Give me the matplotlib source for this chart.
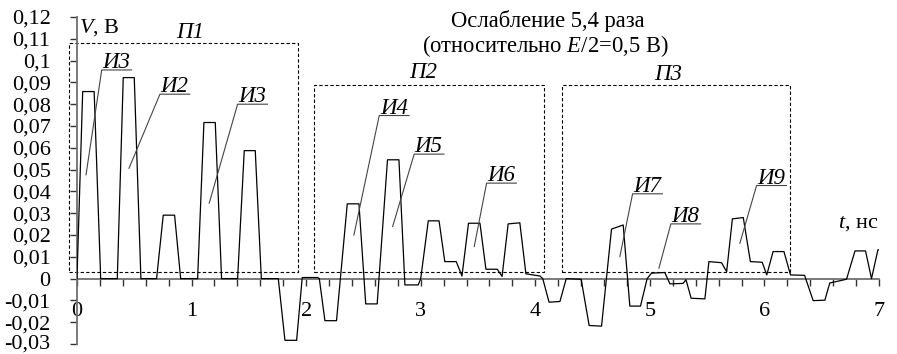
import matplotlib
matplotlib.use('Agg')
import matplotlib.pyplot as plt
import matplotlib.transforms as mtrans
import numpy as np

plt.rcParams['font.family'] = 'serif'
plt.rcParams['font.serif'] = ['Liberation Serif', 'Times New Roman', 'DejaVu Serif']
plt.rcParams['mathtext.fontset'] = 'custom'
plt.rcParams['mathtext.rm'] = 'Liberation Serif'
plt.rcParams['mathtext.it'] = 'Liberation Serif:italic'

# осциллограмма напряжения (t в нс, V в вольтах)
t_ns = [0.0, 0.05, 0.15, 0.207, 0.352, 0.404, 0.50, 0.558, 0.695, 0.753,
        0.852, 0.905, 1.053, 1.108, 1.207, 1.262, 1.402, 1.46, 1.556, 1.609,
        1.757, 1.815, 1.917, 1.966, 2.10, 2.115, 2.164, 2.265, 2.359, 2.461,
        2.52, 2.62, 2.71, 2.81, 2.862, 2.978, 3.00, 3.066, 3.16, 3.21,
        3.31, 3.36, 3.417, 3.517, 3.569, 3.668, 3.71, 3.763, 3.865, 3.918,
        4.04, 4.065, 4.12, 4.215, 4.27, 4.40, 4.47, 4.578, 4.665, 4.767,
        4.825, 4.918, 4.976, 5.014, 5.13, 5.175, 5.29, 5.315, 5.36, 5.48,
        5.515, 5.625, 5.67, 5.72, 5.815, 5.877, 5.98, 6.02, 6.075, 6.17,
        6.227, 6.35, 6.425, 6.527, 6.57, 6.716, 6.79, 6.882, 6.934, 6.99,
        7.0]
v_volt = [0.0, 0.0858, 0.0858, 0.0, 0.0, 0.0922, 0.0922, 0.0, 0.0, 0.0291,
          0.0291, 0.0, 0.0, 0.0716, 0.0716, 0.0, 0.0, 0.0587, 0.0587, 0.0,
          0.0, -0.0283, -0.0283, 0.0005, 0.0005, 0.0, -0.0193, -0.0193, 0.0343, 0.0343,
          -0.0116, -0.0116, 0.0545, 0.0545, -0.0029, -0.0029, 0.0, 0.0265, 0.0265, 0.0078,
          0.0078, 0.0012, 0.0254, 0.0254, 0.0043, 0.0043, 0.001, 0.0251, 0.0256, 0.0022,
          0.0012, 0.0, -0.0108, -0.0105, 0.0, -0.0003, -0.0215, -0.0218, 0.0227, 0.0246,
          -0.0126, -0.0126, 0.0, 0.0025, 0.0028, -0.0024, -0.0022, -0.0005, -0.009, -0.0093,
          0.0078, 0.0073, 0.0032, 0.0274, 0.028, 0.0078, 0.0075, 0.0017, 0.0124, 0.0124,
          0.0017, 0.0015, -0.0101, -0.0099, -0.002, -0.0003, 0.0127, 0.0127, 0.0, 0.0132,
          0.0132]

# выноски: подпись, начало подчёркивания, конец линии
vynoski = [
    ('И3', (0.216, 0.0957), (0.079, 0.0476)),
    ('И2', (0.724, 0.0846), (0.454, 0.0506)),
    ('И3', (1.402, 0.0800), (1.154, 0.0346)),
    ('И4', (2.638, 0.0748), (2.417, 0.0200)),
    ('И5', (2.943, 0.0571), (2.755, 0.0239)),
    ('И6', (3.575, 0.0438), (3.467, 0.0147)),
    ('И7', (4.849, 0.0389), (4.738, 0.0101)),
    ('И8', (5.183, 0.0251), (5.079, 0.0048)),
    ('И9', (5.931, 0.0427), (5.785, 0.0162)),
]

# пачки: подпись, t0, t1, v0, v1, положение подписи
pachki = [
    ('П1', -0.07, 1.926, 0.0029, 0.108, (0.986, 0.1104)),
    ('П2', 2.068, 4.078, 0.0029, 0.0889, (3.02, 0.0921)),
    ('П3', 4.229, 6.222, 0.0029, 0.0889, (5.157, 0.0911)),
]

fig = plt.figure(figsize=(8.97, 3.54), dpi=100)
ax = fig.add_axes([0.0858, 0.0282, 0.98 - 0.0858, 0.952 - 0.0282])

ax.plot(t_ns, v_volt, color='black', lw=0.9, zorder=3)

ax.set_xlim(0, 7)
ax.set_ylim(-0.03, 0.12)

for s in ['top', 'right']:
    ax.spines[s].set_visible(False)
ax.spines['bottom'].set_position(('data', 0))
ax.spines['left'].set_position(('data', 0))
for s in ['bottom', 'left']:
    ax.spines[s].set_color('#707070')
    ax.spines[s].set_linewidth(1.3)

ax.set_xticks(range(8))
ax.set_xticks(np.arange(0, 7.01, 0.2), minor=True)
yt = np.round(np.arange(-0.03, 0.1201, 0.01), 2)
ax.set_yticks(yt)
ax.set_yticklabels([f'{v:g}'.replace('.', ',') for v in yt])
ax.tick_params(axis='x', which='both', direction='out', length=5, width=1,
               color='#333333', labelsize=16, pad=12)
ax.tick_params(axis='y', direction='out', length=5, width=1,
               color='#333333', labelsize=16, pad=14)

# нижнюю подпись чуть приподнять, чтобы не обрезалась краем
niz = ax.get_yticklabels()[0]
niz.set_transform(niz.get_transform() + mtrans.ScaledTranslation(0, 2 / 72, fig.dpi_scale_trans))

# пунктирные рамки
for name, t0, t1, v0, v1, (lx, ly) in pachki:
    ax.plot([t0, t1, t1, t0, t0], [v0, v0, v1, v1, v0], color='black',
            lw=0.8, ls=(0, (3, 2)), clip_on=False, zorder=2)
    ax.text(lx, ly, name, fontsize=16.5, fontstyle='italic',
            ha='center', va='baseline')

# выноски
for name, (tx, ty), (px, py) in vynoski:
    ax.plot([px, tx, tx + 0.26], [py, ty, ty], color='#444444', lw=0.8, zorder=4)
    ax.text(tx + 0.005, ty + 0.0009, name, fontsize=16.5, fontstyle='italic',
            ha='left', va='baseline')

ax.text(0.02, 0.1127, '$V$, В', fontsize=16, ha='left', va='baseline')
ax.text(6.64, 0.0233, '$t$, нс', fontsize=16, ha='left', va='baseline')
ax.text(4.11, 0.1156, 'Ослабление 5,4 раза', fontsize=16.3, ha='center', va='baseline')
ax.text(4.09, 0.1041, '(относительно $E$/2=0,5 В)', fontsize=16.3, ha='center', va='baseline')

fig.savefig('out.png', dpi=100)
